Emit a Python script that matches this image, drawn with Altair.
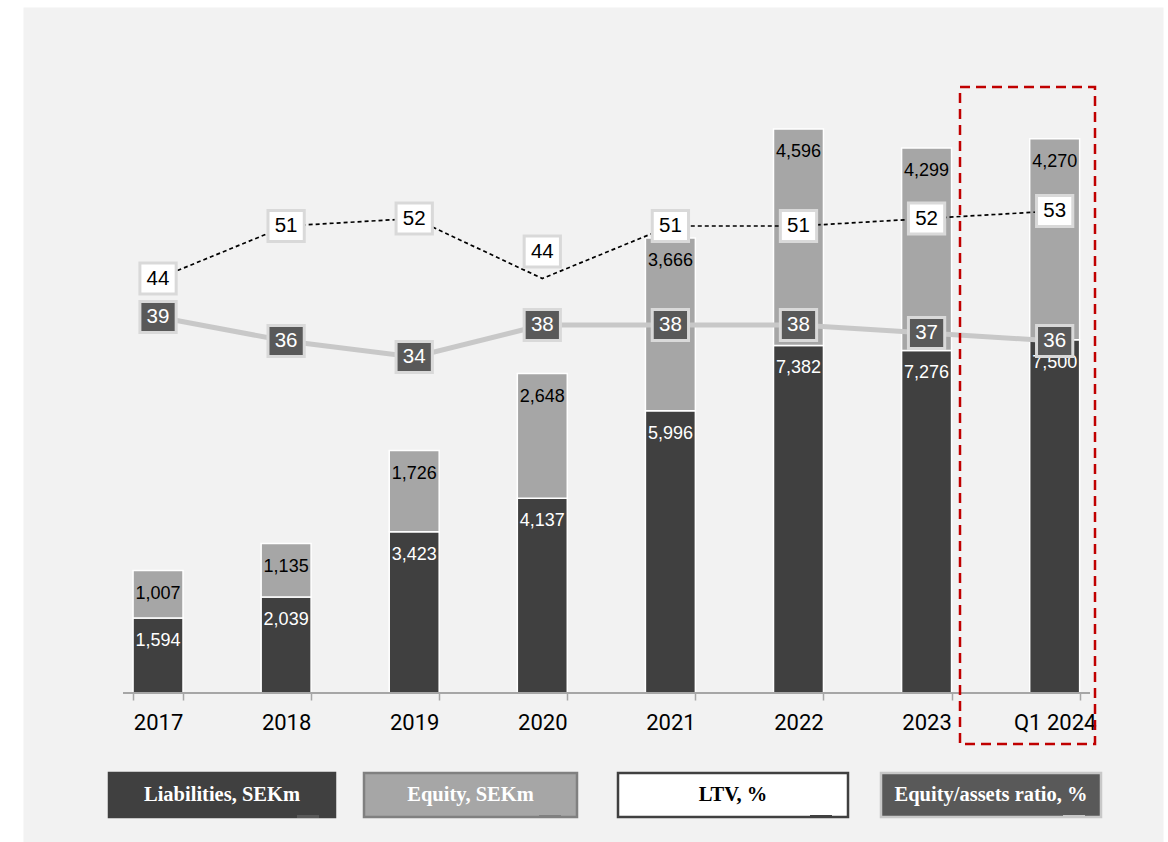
import altair as alt
import pandas as pd

# ---- data ----
periods = ["2017", "2018", "2019", "2020", "2021", "2022", "2023", "Q1 2024"]
liabilities = [1594, 2039, 3423, 4137, 5996, 7382, 7276, 7500]
equity = [1007, 1135, 1726, 2648, 3666, 4596, 4299, 4270]
ltv = [44, 51, 52, 44, 51, 51, 52, 53]
equity_ratio = [39, 36, 34, 38, 38, 38, 37, 36]
legend_labels = ["Liabilities, SEKm", "Equity, SEKm", "LTV, %", "Equity/assets ratio, %"]

df = pd.DataFrame({
    "period": periods,
    "liabilities": liabilities,
    "equity": equity,
    "ltv": ltv,
    "ratio": equity_ratio,
})
df["total"] = df["liabilities"] + df["equity"]
df["liab_lbl"] = df["liabilities"].map(lambda v: f"{v:,}")
df["eq_lbl"] = df["equity"].map(lambda v: f"{v:,}")

one = pd.DataFrame({"k": [0]})

# ---- layout constants ----
W, H = 1140, 835
FS = "Liberation Sans"

x_enc = alt.X(
    "period:N", sort=periods,
    scale=alt.Scale(domain=periods, paddingInner=0.61, paddingOuter=0.755, align=0.569),
    axis=alt.Axis(title=None, orient="bottom", offset=-149, domain=False, ticks=True,
                  tickBand="extent", tickColor="#a6a6a6", tickSize=7, tickWidth=1.5,
                  labelFont="Roboto", labelFontSize=22, labelColor="#000000",
                  labelPadding=12, labelAngle=0, grid=False),
)

bar_scale = alt.Scale(domain=[-3164, 14568], nice=False, zero=False)
ltv_scale = alt.Scale(domain=[-31.13, 80.2], nice=False, zero=False)
ratio_scale = alt.Scale(domain=[-26.625, 77.75], nice=False, zero=False)

base = alt.Chart(df)

liab_bar = base.mark_bar(color="#404040", stroke="white", strokeWidth=1.5).encode(
    x=x_enc,
    y=alt.Y("liabilities:Q", scale=bar_scale, axis=None),
    y2=alt.datum(0),
)
eq_bar = base.mark_bar(color="#a6a6a6", stroke="white", strokeWidth=1.5).encode(
    x=x_enc,
    y=alt.Y("total:Q", scale=bar_scale, axis=None),
    y2="liabilities:Q",
)
liab_txt = base.mark_text(color="white", font=FS, fontSize=18, dy=23, baseline="middle").encode(
    x=x_enc,
    y=alt.Y("liabilities:Q", scale=bar_scale, axis=None),
    text="liab_lbl:N",
)
eq_txt = base.mark_text(color="black", font=FS, fontSize=18, dy=23, baseline="middle").encode(
    x=x_enc,
    y=alt.Y("total:Q", scale=bar_scale, axis=None),
    text="eq_lbl:N",
)

box_path = "M-1.17,-1L1.17,-1L1.17,1L-1.17,1Z"

ratio_line = base.mark_line(color="#c8c8c8", strokeWidth=5).encode(
    x=x_enc, y=alt.Y("ratio:Q", scale=ratio_scale, axis=None))
ratio_box = base.mark_point(shape=box_path, size=961, filled=True, fill="#595959",
                            stroke="#d9d9d9", strokeWidth=3, opacity=1).encode(
    x=x_enc, y=alt.Y("ratio:Q", scale=ratio_scale, axis=None))
ratio_txt = base.mark_text(color="white", font=FS, fontSize=20.5, baseline="middle").encode(
    x=x_enc, y=alt.Y("ratio:Q", scale=ratio_scale, axis=None), text="ratio:Q")

ltv_line = base.mark_line(color="black", strokeWidth=1.7, strokeDash=[4, 3]).encode(
    x=x_enc, y=alt.Y("ltv:Q", scale=ltv_scale, axis=None))
ltv_on = base.transform_filter(alt.datum.period != "2020")
ltv_up = base.transform_filter(alt.datum.period == "2020")
ltv_box = ltv_on.mark_point(shape=box_path, size=961, filled=True, fill="white",
                            stroke="#d9d9d9", strokeWidth=3, opacity=1).encode(
    x=x_enc, y=alt.Y("ltv:Q", scale=ltv_scale, axis=None))
ltv_txt = ltv_on.mark_text(color="black", font=FS, fontSize=20.5, baseline="middle").encode(
    x=x_enc, y=alt.Y("ltv:Q", scale=ltv_scale, axis=None), text="ltv:Q")
ltv_box2 = ltv_up.mark_point(shape=box_path, size=961, filled=True, fill="white",
                             stroke="#d9d9d9", strokeWidth=3, opacity=1, yOffset=-27).encode(
    x=x_enc, y=alt.Y("ltv:Q", scale=ltv_scale, axis=None))
ltv_txt2 = ltv_up.mark_text(color="black", font=FS, fontSize=20.5, baseline="middle", dy=-27).encode(
    x=x_enc, y=alt.Y("ltv:Q", scale=ltv_scale, axis=None), text="ltv:Q")

# x-axis baseline
axis_rule = alt.Chart(one).mark_rule(color="#a6a6a6", strokeWidth=2).encode(
    x=alt.value(100), x2=alt.value(1067), y=alt.value(686))

# red dashed highlight frame
frame = alt.Chart(one).mark_rect(fillOpacity=0, stroke="#c00000", strokeWidth=2.5,
                                 strokeDash=[10, 6]).encode(
    x=alt.value(937), x2=alt.value(1072), y=alt.value(80), y2=alt.value(737))

# custom legend boxes
legend_boxes = [
    # x0, x1, fill, stroke, text colour, tab colour
    (86, 312, "#404040", "#404040", "white", "#595959"),
    (341, 554, "#a6a6a6", "#808080", "white", "#808080"),
    (595, 825, "white", "#404040", "black", "#404040"),
    (858, 1078, "#595959", "#c8c8c8", "white", "#c8c8c8"),
]
legend_layers = []
for lbl, (x0, x1, fill, stroke, tcol, tab) in zip(legend_labels, legend_boxes):
    ldf = pd.DataFrame({"label": [lbl]})
    legend_layers.append(
        alt.Chart(ldf).mark_rect(fill=fill, stroke=stroke, strokeWidth=2.5).encode(
            x=alt.value(x0), x2=alt.value(x1), y=alt.value(766), y2=alt.value(810)))
    legend_layers.append(
        alt.Chart(ldf).mark_rect(fill=tab).encode(
            x=alt.value(x1 - 38), x2=alt.value(x1 - 16), y=alt.value(808), y2=alt.value(811)))
    legend_layers.append(
        alt.Chart(ldf).mark_text(color=tcol, font="Liberation Serif", fontWeight="bold",
                                 fontSize=20.5, baseline="middle").encode(
            x=alt.value((x0 + x1) / 2), y=alt.value(788), text="label:N"))

chart = alt.layer(
    liab_bar, eq_bar, liab_txt, eq_txt,
    ratio_line, ltv_line,
    ratio_box, ratio_txt,
    ltv_box, ltv_txt, ltv_box2, ltv_txt2,
    axis_rule, frame, *legend_layers,
).resolve_scale(y="independent").properties(
    width=W, height=H,
    autosize=alt.AutoSizeParams(type="none"),
    padding={"left": 23, "top": 7, "right": 5, "bottom": 0},
    background="white",
).configure_view(fill="#f2f2f2", strokeOpacity=0)

chart.save("out.html", embed_options={"renderer": "svg", "actions": False})
